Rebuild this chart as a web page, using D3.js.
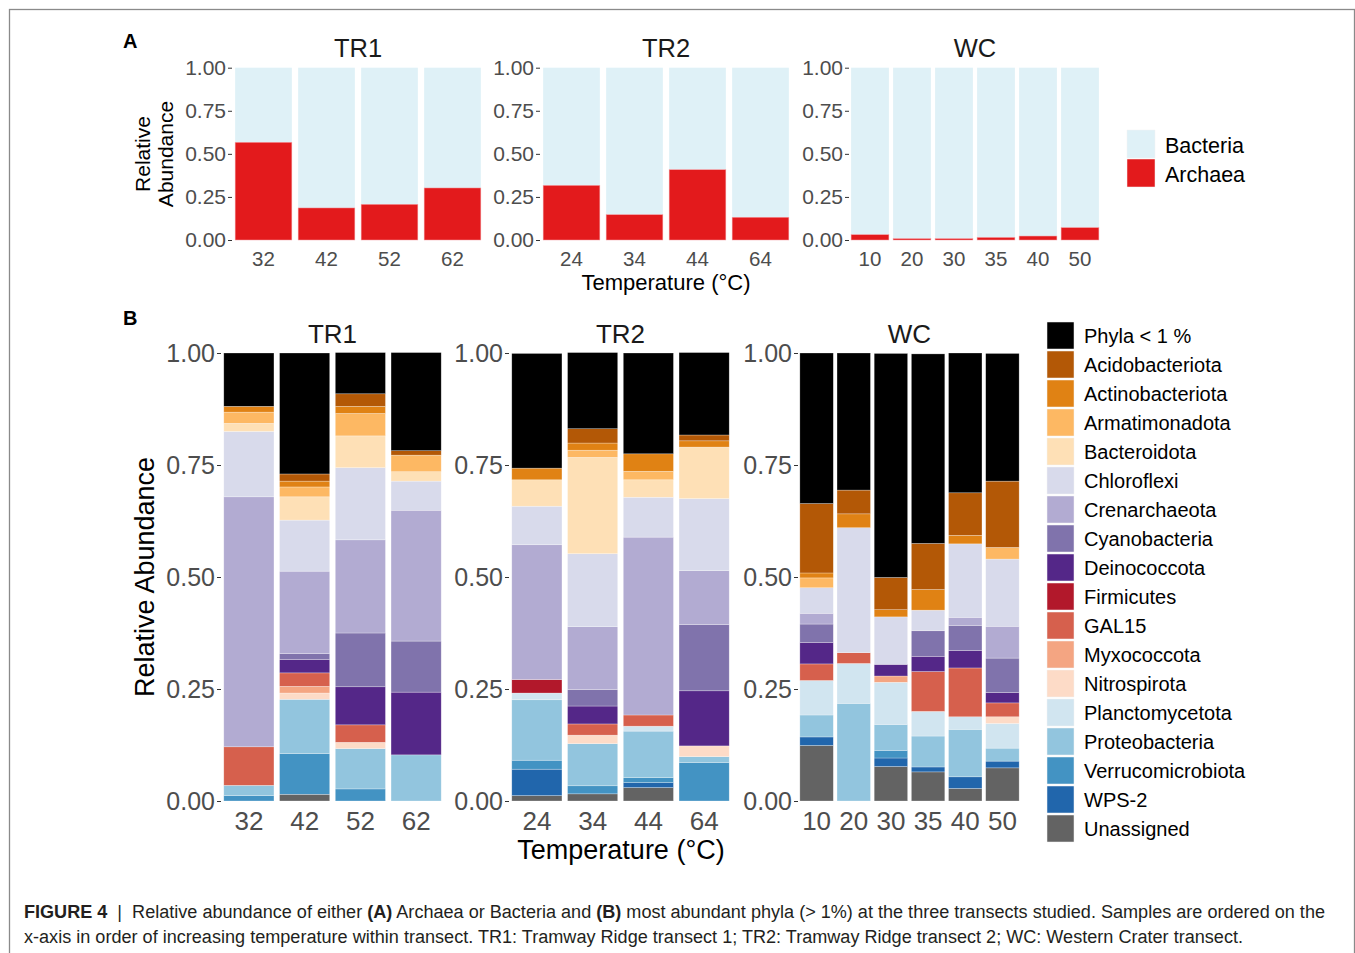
<!DOCTYPE html>
<html>
<head>
<meta charset="utf-8">
<script src="https://cdn.jsdelivr.net/npm/d3@7"></script>
<style>
  body { margin: 0; background: #fff; }
  svg { display: block; font-family: "Liberation Sans", Arial, sans-serif; }
</style>
</head>
<body>
<div id="chart"></div>
<script>
// ---- data ----
const transects = ["TR1", "TR2", "WC"];
const tr1Temps = ["32", "42", "52", "62"];
const tr2Temps = ["24", "34", "44", "64"];
const wcTemps = ["10", "20", "30", "35", "40", "50"];

// panel A: archaeal fraction (bacteria = 1 - archaea)
const tr1Archaea = [0.567, 0.186, 0.207, 0.302];
const tr2Archaea = [0.317, 0.147, 0.408, 0.132];
const wcArchaea = [0.031, 0.008, 0.008, 0.015, 0.023, 0.072];

// panel B: phyla, legend order (top of stack first)
const phyla = ["Phyla < 1 %", "Acidobacteriota", "Actinobacteriota", "Armatimonadota",
  "Bacteroidota", "Chloroflexi", "Crenarchaeota", "Cyanobacteria", "Deinococcota",
  "Firmicutes", "GAL15", "Myxococcota", "Nitrospirota", "Planctomycetota",
  "Proteobacteria", "Verrucomicrobiota", "WPS-2", "Unassigned"];
const phylaColors = ["#000000", "#b35806", "#e08214", "#fdb863", "#fee0b6", "#d8daeb",
  "#b2abd2", "#8073ac", "#542788", "#b2182b", "#d6604d", "#f4a582", "#fddbc7",
  "#d1e5f0", "#92c5de", "#4393c3", "#2166ac", "#636363"];

// one row per sample, columns in the phyla order above
const tr1Phyla = [
  [0.119, 0, 0.013, 0.025, 0.018, 0.146, 0.558, 0, 0, 0, 0.086, 0, 0, 0, 0.023, 0.012, 0, 0],
  [0.270, 0.016, 0.013, 0.022, 0.052, 0.114, 0.184, 0.013, 0.030, 0, 0.030, 0.015, 0.014, 0, 0.121, 0.091, 0, 0.015],
  [0.092, 0.028, 0.016, 0.050, 0.071, 0.161, 0.208, 0.120, 0.085, 0, 0.039, 0, 0.014, 0, 0.090, 0.027, 0, 0],
  [0.219, 0.010, 0, 0.037, 0.021, 0.065, 0.292, 0.114, 0.140, 0, 0, 0, 0, 0, 0.103, 0, 0, 0]
];
const tr2Phyla = [
  [0.256, 0, 0.026, 0, 0.059, 0.086, 0.301, 0, 0, 0.030, 0, 0, 0, 0.015, 0.135, 0.020, 0.059, 0.012],
  [0.170, 0.032, 0.016, 0.016, 0.215, 0.163, 0.140, 0.037, 0.040, 0, 0.025, 0, 0.019, 0, 0.094, 0.018, 0, 0.016],
  [0.225, 0, 0.039, 0.019, 0.039, 0.089, 0.397, 0, 0, 0, 0.025, 0, 0, 0.011, 0.104, 0.011, 0.011, 0.030],
  [0.184, 0.013, 0.014, 0, 0.115, 0.161, 0.120, 0.148, 0.123, 0, 0, 0, 0.024, 0, 0.013, 0.086, 0, 0]
];
const wcPhyla = [
  [0.336, 0.155, 0.011, 0.022, 0, 0.057, 0.024, 0.041, 0.048, 0, 0.037, 0, 0, 0.077, 0.049, 0, 0.019, 0.124],
  [0.306, 0.053, 0.031, 0, 0, 0.279, 0, 0, 0, 0, 0.024, 0, 0, 0.089, 0.218, 0, 0, 0],
  [0.500, 0.072, 0.016, 0, 0, 0.106, 0, 0, 0.026, 0, 0, 0.014, 0, 0.094, 0.058, 0.017, 0.019, 0.077],
  [0.423, 0.103, 0.046, 0, 0, 0.046, 0, 0.057, 0.034, 0, 0.089, 0, 0, 0.055, 0.069, 0, 0.011, 0.065],
  [0.312, 0.095, 0.019, 0, 0, 0.164, 0.018, 0.056, 0.039, 0, 0.109, 0, 0, 0.028, 0.106, 0, 0.026, 0.028],
  [0.285, 0.148, 0, 0.026, 0, 0.150, 0.071, 0.077, 0.023, 0, 0.031, 0, 0.015, 0.055, 0.029, 0, 0.015, 0.074]
];

const domainTicks = [0, 0.25, 0.5, 0.75, 1];
const tickCol = "#4d4d4d";

// ---- svg ----
const W = 1355, H = 953;
const svg = d3.select("#chart").append("svg")
  .attr("width", W).attr("height", H);

// figure frame
svg.append("rect")
  .attr("x", 9.5).attr("y", 9.5).attr("width", 1345).attr("height", 980)
  .attr("fill", "none").attr("stroke", "#8a8a8a").attr("stroke-width", 1.3);

const temps = [tr1Temps, tr2Temps, wcTemps];

function drawAxes(g, x, y, tickFont, xFont, xPad) {
  const ya = g.append("g")
    .attr("transform", `translate(${x.range()[0]},0)`)
    .call(d3.axisLeft(y).tickValues(domainTicks).tickFormat(d3.format(".2f")).tickSize(4).tickPadding(2));
  ya.select(".domain").remove();
  ya.selectAll("line").attr("stroke", "#333");
  ya.selectAll("text").attr("fill", tickCol).style("font-size", tickFont + "px")
    .style("font-family", "Liberation Sans, Arial, sans-serif");

  const xa = g.append("g")
    .attr("transform", `translate(0,${y.range()[0]})`)
    .call(d3.axisBottom(x).tickSize(0).tickPadding(xPad));
  xa.select(".domain").remove();
  xa.selectAll("text").attr("fill", tickCol).style("font-size", xFont + "px")
    .style("font-family", "Liberation Sans, Arial, sans-serif");
}

// ---- panel A ----
const archaea = [tr1Archaea, tr2Archaea, wcArchaea];
const aLeft = [232, 540, 849], aWidth = 252;
const yA = d3.scaleLinear().domain([0, 1]).range([240, 67.7]);

svg.append("text").attr("x", 123).attr("y", 48).text("A")
  .style("font-weight", "bold").style("font-size", "20px").attr("fill", "#000");

transects.forEach((t, i) => {
  const x = d3.scaleBand().domain(temps[i]).range([aLeft[i], aLeft[i] + aWidth])
    .paddingInner(0.1).paddingOuter(0.05);
  const g = svg.append("g");
  const rows = temps[i].map((k, j) => ({ k: k, a: archaea[i][j] }));
  g.selectAll(".bac").data(rows).join("rect")
    .attr("x", d => x(d.k)).attr("width", x.bandwidth())
    .attr("y", yA(1)).attr("height", d => yA(d.a) - yA(1))
    .attr("fill", "#dff1f7");
  g.selectAll(".arc").data(rows).join("rect")
    .attr("x", d => x(d.k)).attr("width", x.bandwidth())
    .attr("y", d => yA(d.a)).attr("height", d => yA(0) - yA(d.a))
    .attr("fill", "#e31a1c").attr("stroke", "#f4a0a6").attr("stroke-width", 0.5);
  drawAxes(g, x, yA, 21, 20.5, 11);
  g.append("text").attr("x", aLeft[i] + aWidth / 2).attr("y", 57)
    .attr("text-anchor", "middle").style("font-size", "25.5px").attr("fill", "#1a1a1a").text(t);
});

svg.append("text").attr("x", 666).attr("y", 290).attr("text-anchor", "middle")
  .style("font-size", "22px").attr("fill", "#000").text("Temperature (°C)");
[["Relative", 143], ["Abundance", 166]].forEach(([s, cx]) => {
  svg.append("text").attr("transform", `translate(${cx},154) rotate(-90)`)
    .attr("text-anchor", "middle").attr("dy", "0.35em")
    .style("font-size", "21px").attr("fill", "#000").text(s);
});

const legA = [["Bacteria", "#dff1f7"], ["Archaea", "#e31a1c"]];
legA.forEach(([s, c], i) => {
  svg.append("rect").attr("x", 1127).attr("y", 130 + i * 29).attr("width", 28).attr("height", 28)
    .attr("fill", c).attr("stroke", "#f2f2f2").attr("stroke-width", 0.5);
  svg.append("text").attr("x", 1165).attr("y", 145 + i * 29).attr("dy", "0.35em")
    .style("font-size", "21.5px").attr("fill", "#000").text(s);
});

// ---- panel B ----
const phylaData = [tr1Phyla, tr2Phyla, wcPhyla];
const bLeft = [221, 509, 798], bWidth = 223;
const yB = d3.scaleLinear().domain([0, 1]).range([801, 353]);
const color = d3.scaleOrdinal().domain(phyla).range(phylaColors);
const stackKeys = phyla.slice().reverse();

svg.append("text").attr("x", 123).attr("y", 325).text("B")
  .style("font-weight", "bold").style("font-size", "20px").attr("fill", "#000");

transects.forEach((t, i) => {
  const x = d3.scaleBand().domain(temps[i]).range([bLeft[i], bLeft[i] + bWidth])
    .paddingInner(0.1).paddingOuter(0.05);
  const rows = temps[i].map((k, j) => {
    const r = { k: k };
    phyla.forEach((p, m) => r[p] = phylaData[i][j][m]);
    return r;
  });
  const series = d3.stack().keys(stackKeys)(rows);
  const g = svg.append("g");
  g.selectAll("g.layer").data(series).join("g")
    .attr("fill", d => color(d.key))
    .selectAll("rect").data(d => d.filter(s => s[1] - s[0] > 0)).join("rect")
      .attr("x", d => x(d.data.k)).attr("width", x.bandwidth())
      .attr("y", d => yB(d[1])).attr("height", d => yB(d[0]) - yB(d[1]))
      .attr("stroke", "#ffffff").attr("stroke-opacity", 0.45).attr("stroke-width", 0.6);
  drawAxes(g, x, yB, 25, 26, 10.5);
  g.append("text").attr("x", bLeft[i] + bWidth / 2).attr("y", 343)
    .attr("text-anchor", "middle").style("font-size", "26px").attr("fill", "#1a1a1a").text(t);
});

svg.append("text").attr("x", 621).attr("y", 859).attr("text-anchor", "middle")
  .style("font-size", "27px").attr("fill", "#000").text("Temperature (°C)");
svg.append("text").attr("transform", "translate(145,577) rotate(-90)")
  .attr("text-anchor", "middle").attr("dy", "0.35em")
  .style("font-size", "27px").attr("fill", "#000").text("Relative Abundance");

const legB = svg.append("g");
phyla.forEach((p, i) => {
  legB.append("rect").attr("x", 1047).attr("y", 322 + i * 29).attr("width", 27).attr("height", 27)
    .attr("fill", color(p)).attr("stroke", "#f2f2f2").attr("stroke-width", 0.5);
  legB.append("text").attr("x", 1084).attr("y", 336 + i * 29).attr("dy", "0.35em")
    .style("font-size", "20px").attr("fill", "#000").text(p);
});

// ---- caption ----
const cap = svg.append("g").style("font-family", "'Liberation Sans Narrow', 'Arial Narrow', 'Liberation Sans', sans-serif")
  .style("font-size", "18px").attr("fill", "#231f20");
const line1 = cap.append("text").attr("x", 24).attr("y", 918)
  .attr("textLength", 1301).attr("lengthAdjust", "spacingAndGlyphs");
[["FIGURE 4", true], ["  |  Relative abundance of either ", false], ["(A)", true],
 [" Archaea or Bacteria and ", false], ["(B)", true],
 [" most abundant phyla (> 1%) at the three transects studied. Samples are ordered on the", false]]
  .forEach(([s, b]) => line1.append("tspan").style("font-weight", b ? "bold" : "normal")
    .style("white-space", "pre").text(s));
cap.append("text").attr("x", 24).attr("y", 943)
  .attr("textLength", 1219).attr("lengthAdjust", "spacingAndGlyphs")
  .text("x-axis in order of increasing temperature within transect. TR1: Tramway Ridge transect 1; TR2: Tramway Ridge transect 2; WC: Western Crater transect.");
</script>
</body>
</html>
